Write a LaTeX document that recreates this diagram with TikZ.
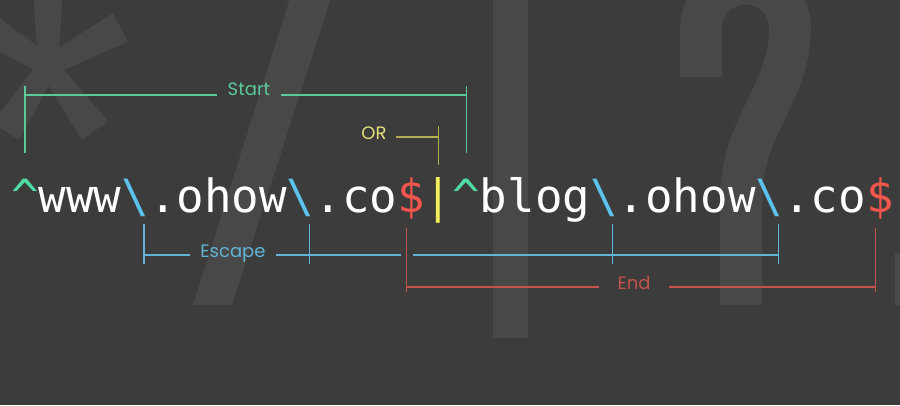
\documentclass[tikz,border=0pt]{standalone}
\usepackage{fontspec}
\setmonofont{DejaVu Sans Mono}
\newfontfamily\labelfont{Poppins}
\usetikzlibrary{positioning,calc}
\definecolor{slate}{HTML}{3C3C3C}
\definecolor{ghost}{HTML}{484848}
\definecolor{mint}{HTML}{4FDDA6}
\definecolor{mintline}{HTML}{5CC99A}
\definecolor{sky}{HTML}{5CC2EC}
\definecolor{skyline}{HTML}{62B4D6}
\definecolor{coral}{HTML}{F2564C}
\definecolor{coralline}{HTML}{C4524C}
\definecolor{lemon}{HTML}{F4EF5C}
\definecolor{lemonline}{HTML}{B4AE52}
\definecolor{lemontext}{HTML}{E4E07A}

\begin{document}
\begin{tikzpicture}[x=1pt,y=-1pt,
  code/.style={inner sep=0pt,outer sep=0pt,font=\ttfamily\fontsize{45.8}{50}\selectfont},
  lbl/.style={inner xsep=10pt,inner ysep=0pt,font=\labelfont\fontsize{18}{20}\selectfont,anchor=mid},
  bracket/.style={line width=1.3pt}]

  \fill[slate] (0,0) rectangle (900,405);
  \useasboundingbox (0,0) rectangle (900,405);

  % faint glyphs behind the pattern
  \coordinate (star) at (48,66);
  \fill[ghost] (star) circle (15);
  \foreach \a/\r in {-90/92,-28/82,54/80,123/78,-148/82}
    \fill[ghost] ($(star)+(\a+90:10)$) -- ($(star)+(\a:\r)+(\a+90:16)$)
      -- ($(star)+(\a:\r)+(\a-90:16)$) -- ($(star)+(\a-90:10)$) -- cycle;
  \fill[ghost] (290,-2) -- (331,-2) -- (232,305) -- (193,305) -- cycle;
  \fill[ghost] (493,-2) rectangle (528,338);
  \draw[ghost,line width=42pt] (701,77) -- (701,28)
    arc[start angle=180,end angle=360,radius=44.5]
    .. controls (790,95) and (741,125) .. (741,200) -- (741,305);
  \fill[ghost] (895,253) rectangle (902,305);

  % the pattern
  \node[code,anchor=base west,mint] (c1) at (11.2,212) {\textasciicircum};
  \node[code,base right=0pt of c1,white] (w1) {www};
  \node[code,base right=0pt of w1,sky] (e1) {\textbackslash};
  \node[code,base right=0pt of e1,white] (w2) {.ohow};
  \node[code,base right=0pt of w2,sky] (e2) {\textbackslash};
  \node[code,base right=0pt of e2,white] (w3) {.co};
  \node[code,base right=0pt of w3,coral] (d1) {\$};
  \node[code,base right=0pt of d1,lemon] (bar) {\textbar};
  \node[code,base right=0pt of bar,mint] (c2) {\textasciicircum};
  \node[code,base right=0pt of c2,white] (w4) {blog};
  \node[code,base right=0pt of w4,sky] (e3) {\textbackslash};
  \node[code,base right=0pt of e3,white] (w5) {.ohow};
  \node[code,base right=0pt of w5,sky] (e4) {\textbackslash};
  \node[code,base right=0pt of e4,white] (w6) {.co};
  \node[code,base right=0pt of w6,coral] (d2) {\$};

  % labels
  \node[lbl,mintline,anchor=base,inner xsep=11pt] (lstart) at (249,95) {Start};
  \node[lbl,lemontext,inner xsep=9pt] (lor) at (374,137) {OR};
  \node[lbl,skyline] (lesc) at (233,255) {Escape};
  \node[lbl,coralline,inner xsep=18pt] (lend) at (634,287) {End};

  % start
  \foreach \c in {c1,c2}
    \draw[bracket,mintline] ($(\c.base)+(0,-126)$) -- ($(\c.base)+(0,-59)$);
  \draw[bracket,mintline] (c1.base |- lstart.base) -- (lstart.base west)
    (lstart.base east) -- (c2.base |- lstart.base);
  % or
  \draw[bracket,lemonline] ($(bar.base)+(0,-86)$) -- ($(bar.base)+(0,-47)$);
  \draw[bracket,lemonline] (lor.mid east) -- (bar.base |- lor.mid);
  % escape
  \foreach \e in {e1,e2,e3,e4}
    \coordinate (\e k) at ($(\e.base)+(8.7,0)$);
  \foreach \e in {e1,e2,e3,e4}
    \draw[bracket,skyline] ($(\e k)+(0,12)$) -- ($(\e k)+(0,52)$);
  \draw[bracket,skyline] (e1k |- lesc.mid) -- (lesc.mid west)
    (lesc.mid east) -- ($(d1.base |- lesc.mid)+(-10,0)$)
    ($(d1.base |- lesc.mid)+(2,0)$) -- (e4k |- lesc.mid);
  % end
  \foreach \d in {d1,d2}
    \coordinate (\d k) at ($(\d.base)+(-4.5,0)$);
  \foreach \d in {d1,d2}
    \draw[bracket,coralline] ($(\d k)+(0,16)$) -- ($(\d k)+(0,80)$);
  \draw[bracket,coralline] (d1k |- lend.mid) -- (lend.mid west)
    (lend.mid east) -- (d2k |- lend.mid);
\end{tikzpicture}
\end{document}
